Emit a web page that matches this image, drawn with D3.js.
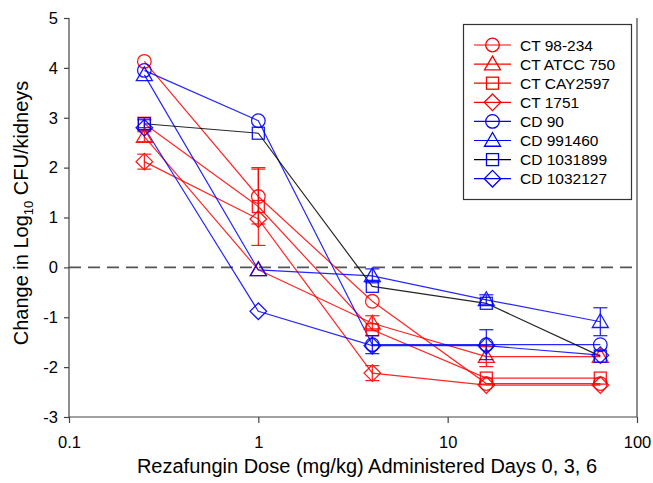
<!DOCTYPE html>
<html>
<head>
<meta charset="utf-8">
<script src="https://cdn.jsdelivr.net/npm/d3@7"></script>
<style>
  html, body { margin: 0; padding: 0; background: #fff; }
  svg { display: block; font-family: "Liberation Sans", Arial, sans-serif; }
</style>
</head>
<body>
<svg id="chart" width="653" height="483"></svg>
<script>
// ---- data ----
const doses = [0.25, 1, 4, 16, 64];
const seriesNames = ["CT 98-234", "CT ATCC 750", "CT CAY2597", "CT 1751", "CD 90", "CD 991460", "CD 1031899", "CD 1032127"];
const ct98234   = [4.13, 1.42, -0.68, -2.33, -2.33];
const ctATCC750 = [2.62, -0.05, -1.12, -1.79, -1.79];
const ctCAY2597 = [2.88, 1.22, -1.25, -2.22, -2.22];
const ct1751    = [2.12, 0.97, -2.12, -2.36, -2.36];
const cd90      = [3.95, 2.94, -1.55, -1.55, -1.55];
const cd991460  = [3.86, -0.05, -0.17, -0.65, -1.09];
const cd1031899 = [2.88, 2.69, -0.38, -0.72, -1.78];
const cd1032127 = [2.80, -0.88, -1.57, -1.57, -1.76];
const err98234   = [0, 0.55, 0, 0, 0];
const errATCC750 = [0.1, 0, 0.15, 0.2, 0];
const errCAY2597 = [0.13, 0.78, 0, 0, 0];
const err1751    = [0.15, 0, 0.15, 0, 0];
const err90      = [0, 0, 0.18, 0.3, 0];
const err991460  = [0, 0, 0.14, 0.1, 0.28];
const err1031899 = [0.08, 0, 0, 0, 0];
const err1032127 = [0, 0, 0, 0, 0];
const seriesValues = [ct98234, ctATCC750, ctCAY2597, ct1751, cd90, cd991460, cd1031899, cd1032127];
const seriesErrors = [err98234, errATCC750, errCAY2597, err1751, err90, err991460, err1031899, err1032127];
const markerColors = ["#ff0000", "#ff0000", "#ff0000", "#ff0000", "#0000ff", "#0000ff", "#0000ff", "#0000ff"];
const lineColors   = ["#ff0000", "#ff0000", "#ff0000", "#ff0000", "#0000ff", "#0000ff", "#000000", "#0000ff"];
const shapes = ["circle", "triangle", "square", "diamond", "circle", "triangle", "square", "diamond"];
const xTicks = [0.1, 1, 10, 100];
const yTicks = [-3, -2, -1, 0, 1, 2, 3, 4, 5];

// ---- layout ----
const svg = d3.select("#chart");
const x = d3.scaleLog().domain([0.1, 100]).range([69, 637]);
const y = d3.scaleLinear().domain([-3, 5]).range([417, 18]);
const axisColor = "#444";

// zero reference line
svg.append("line")
  .attr("x1", x(0.1)).attr("x2", x(100))
  .attr("y1", y(0)).attr("y2", y(0))
  .attr("stroke", "#555").attr("stroke-width", 1.6)
  .attr("stroke-dasharray", "12,7");

// axes
const yAxis = d3.axisLeft(y).tickValues(yTicks).tickSize(5).tickPadding(6).tickFormat(d => String(d));
const xAxis = d3.axisBottom(x).tickValues(xTicks).tickSize(6).tickPadding(13).tickFormat(d => String(d));
const gy = svg.append("g").attr("transform", `translate(${x(0.1)},0)`).call(yAxis);
const gx = svg.append("g").attr("transform", `translate(0,${y(-3)})`).call(xAxis);
[gx, gy].forEach(g => {
  g.select(".domain").attr("stroke", axisColor).attr("stroke-width", 1.2);
  g.selectAll(".tick line").attr("stroke", axisColor).attr("stroke-width", 1.2);
  g.selectAll(".tick text").attr("fill", "#000").attr("font-size", 16.5)
    .attr("font-family", "Liberation Sans, Arial, sans-serif");
});
gy.select(".domain").attr("d", `M0,${y(5)}V${y(-3)}`);
gx.select(".domain").attr("d", `M${x(0.1)},0H${x(100)}`);
// right frame line
svg.append("line").attr("x1", x(100)).attr("x2", x(100))
  .attr("y1", y(5)).attr("y2", y(-3))
  .attr("stroke", axisColor).attr("stroke-width", 1.2);

// axis titles
svg.append("text")
  .attr("x", 367).attr("y", 473)
  .attr("text-anchor", "middle").attr("font-size", 20)
  .text("Rezafungin Dose (mg/kg) Administered Days 0, 3, 6");
const yl = svg.append("text")
  .attr("transform", `translate(28,213) rotate(-90)`)
  .attr("text-anchor", "middle").attr("font-size", 20);
yl.append("tspan").text("Change in Log");
yl.append("tspan").attr("font-size", 13).attr("dy", 5).text("10");
yl.append("tspan").attr("dy", -5).text(" CFU/kidneys");

// marker drawing
function drawMarker(g, shape, cx, cy, color) {
  if (shape === "circle") {
    g.append("circle").attr("cx", cx).attr("cy", cy).attr("r", 6.8)
      .attr("fill", "none").attr("stroke", color).attr("stroke-width", 1.3);
  } else if (shape === "triangle") {
    const s = 8;
    g.append("path").attr("d", `M${cx},${cy - s}L${cx + s},${cy + s * 0.72}L${cx - s},${cy + s * 0.72}Z`)
      .attr("fill", "none").attr("stroke", color).attr("stroke-width", 1.3);
  } else if (shape === "square") {
    const s = 6;
    g.append("rect").attr("x", cx - s).attr("y", cy - s).attr("width", 2 * s).attr("height", 2 * s)
      .attr("fill", "none").attr("stroke", color).attr("stroke-width", 1.3);
  } else {
    const s = 8.3;
    g.append("path").attr("d", `M${cx},${cy - s}L${cx + s},${cy}L${cx},${cy + s}L${cx - s},${cy}Z`)
      .attr("fill", "none").attr("stroke", color).attr("stroke-width", 1.3);
  }
}

const line = d3.line().x(d => x(d[0])).y(d => y(d[1]));

// lines first
seriesValues.forEach((vals, i) => {
  const pts = doses.map((d, j) => [d, vals[j]]);
  svg.append("path").attr("d", line(pts))
    .attr("fill", "none").attr("stroke", lineColors[i]).attr("stroke-width", 1.2)
    .attr("opacity", 0.85);
});

// error bars and markers
seriesValues.forEach((vals, i) => {
  const g = svg.append("g").attr("opacity", 0.9);
  doses.forEach((d, j) => {
    const e = seriesErrors[i][j];
    if (e > 0) {
      const cx = x(d);
      g.append("line").attr("x1", cx).attr("x2", cx)
        .attr("y1", y(vals[j] - e)).attr("y2", y(vals[j] + e))
        .attr("stroke", markerColors[i]).attr("stroke-width", 1.2);
      [vals[j] - e, vals[j] + e].forEach(v => {
        g.append("line").attr("x1", cx - 7).attr("x2", cx + 7)
          .attr("y1", y(v)).attr("y2", y(v))
          .attr("stroke", markerColors[i]).attr("stroke-width", 1.2);
      });
    }
    drawMarker(g, shapes[i], x(d), y(vals[j]), markerColors[i]);
  });
});

// legend
const lg = svg.append("g");
lg.append("rect").attr("x", 463.5).attr("y", 24.5).attr("width", 168).attr("height", 175)
  .attr("fill", "#fff").attr("stroke", "#333").attr("stroke-width", 1.2);
seriesNames.forEach((name, i) => {
  const yy = 45 + i * 19.1;
  lg.append("line").attr("x1", 474).attr("x2", 511).attr("y1", yy).attr("y2", yy)
    .attr("stroke", lineColors[i]).attr("stroke-width", 1.2);
  drawMarker(lg, shapes[i], 492.5, yy, markerColors[i]);
  lg.append("text").attr("x", 520).attr("y", yy + 5.5).attr("font-size", 15.5).text(name);
});
</script>
</body>
</html>
